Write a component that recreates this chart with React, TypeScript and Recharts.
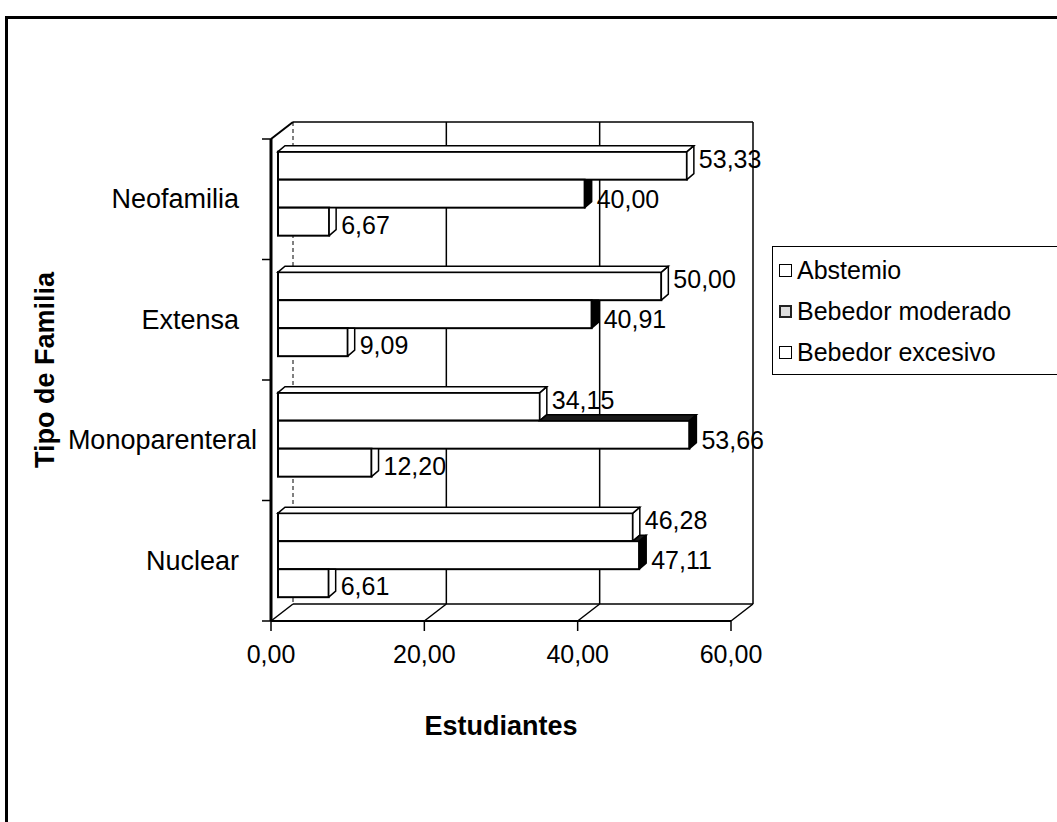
import React from "react";
import { BarChart, Bar, XAxis, YAxis, CartesianGrid, Legend, LabelList } from "recharts";

const categories = ["Neofamilia", "Extensa", "Monoparenteral", "Nuclear"];
const abstemio = [53.33, 50.0, 34.15, 46.28];
const moderado = [40.0, 40.91, 53.66, 47.11];
const excesivo = [6.67, 9.09, 12.2, 6.61];
const seriesNames = ["Abstemio", "Bebedor moderado", "Bebedor excesivo"];
const xTicks = [0, 20, 40, 60];

const rows = categories.map((name, i) => ({
  name,
  abstemio: abstemio[i],
  moderado: moderado[i],
  excesivo: excesivo[i],
}));

const FONT = "'Liberation Sans', Arial, sans-serif";
const W = 1057;
const H = 822;
const MARGIN = { top: 139, right: 326, bottom: 0, left: 0 };
const Y_AXIS_W = 271;
const X_AXIS_H = 201;
const BAND = (H - MARGIN.top - X_AXIS_H) / categories.length;

// wall depth and bar depth (3d look)
const DX = 22;
const DY = 17;
const OX = 7;
const OY = -6;
const BX = 7;
const BY = 6;

const fmt = (v: number) => v.toFixed(2).replace(".", ",");

function make3D(key: string, upperKey: string | null, side: string, top: string) {
  return (props: any) => {
    const { x, y, width, height, payload } = props;
    const v = payload[key];
    if (!v || width <= 0) return <g />;
    const k = width / v;
    const x0 = x + OX;
    const y0 = y + OY;
    const x1 = x0 + width;
    const y1 = y0 + height;
    const upperEnd = upperKey ? x0 + payload[upperKey] * k : -Infinity;
    const hidden = upperEnd >= x1 + BX;
    const sidePts = hidden
      ? `${x1},${y0} ${x1 + BX},${y0} ${x1 + BX},${y1 - BY} ${x1},${y1}`
      : `${x1},${y0} ${x1 + BX},${y0 - BY} ${x1 + BX},${y1 - BY} ${x1},${y1}`;
    const xs = Math.max(x0, upperEnd);
    return (
      <g>
        <rect x={x0} y={y0} width={width} height={height} fill="#fff" stroke="#000" strokeWidth={2} />
        <polygon points={sidePts} fill={side} stroke="#000" strokeWidth={1.5} strokeLinejoin="round" />
        {xs < x1 && (
          <polygon
            points={`${xs},${y0} ${xs + BX},${y0 - BY} ${x1 + BX},${y0 - BY} ${x1},${y0}`}
            fill={top}
            stroke="#000"
            strokeWidth={1.5}
          />
        )}
      </g>
    );
  };
}

const makeLabel = (dy: number) => (props: any) => {
  const { x, y, width, height, value } = props;
  return (
    <text
      x={x + width + OX + BX + 5}
      y={y + height / 2 + OY + dy}
      dominantBaseline="central"
      fontFamily={FONT}
      fontSize={25}
      fill="#000"
    >
      {fmt(value)}
    </text>
  );
};

const VLine = (p: any) => {
  const { x1, y1, x2, y2, index } = p;
  return (
    <g>
      <line
        x1={x1 + DX}
        y1={y1 - DY}
        x2={x2 + DX}
        y2={y2 - DY}
        stroke="#000"
        strokeWidth={index === 0 ? 1 : 1.5}
        strokeDasharray={index === 0 ? "4 3" : undefined}
      />
      <line x1={x2} y1={y2} x2={x2 + DX} y2={y2 - DY} stroke="#000" strokeWidth={1.5} />
      {index === 0 && <line x1={x1} y1={y1} x2={x1 + DX} y2={y1 - DY} stroke="#000" strokeWidth={2} />}
    </g>
  );
};

const HLine = (p: any) => {
  const { x1, y1, x2, y2 } = p;
  return <line x1={x1 + DX} y1={y1 - DY} x2={x2 + DX} y2={y2 - DY} stroke="#000" strokeWidth={1.5} />;
};

const XTick = (p: any) => {
  const { x, y, payload } = p;
  return (
    <text x={x} y={y + 32} textAnchor="middle" fontFamily={FONT} fontSize={25} fill="#000">
      {fmt(payload.value)}
    </text>
  );
};

const YTick = (p: any) => {
  const { y, payload, index } = p;
  const ax = Y_AXIS_W;
  const right = payload.value.length > 12 ? 257 : 239;
  return (
    <g>
      <line x1={ax - 9} y1={y - BAND / 2} x2={ax} y2={y - BAND / 2} stroke="#000" strokeWidth={1.5} />
      {index === categories.length - 1 && (
        <line x1={ax - 9} y1={y + BAND / 2} x2={ax} y2={y + BAND / 2} stroke="#000" strokeWidth={1.5} />
      )}
      <text x={right} y={y} textAnchor="end" dominantBaseline="central" fontFamily={FONT} fontSize={27} fill="#000">
        {payload.value}
      </text>
    </g>
  );
};

const XTitle = (p: any) => {
  const vb = p.viewBox || { x: 271, y: 621, width: 460 };
  return (
    <text x={vb.x + vb.width / 2} y={vb.y + 114} textAnchor="middle" fontFamily={FONT} fontSize={27} fontWeight="bold">
      Estudiantes
    </text>
  );
};

const YTitle = (p: any) => {
  const vb = p.viewBox || { x: 0, y: 139, width: 271, height: 482 };
  const cx = 45;
  const cy = vb.y + vb.height / 2 - 10;
  return (
    <text
      x={cx}
      y={cy}
      textAnchor="middle"
      dominantBaseline="central"
      transform={`rotate(-90, ${cx}, ${cy})`}
      fontFamily={FONT}
      fontSize={27}
      fontWeight="bold"
    >
      Tipo de Familia
    </text>
  );
};

const LegendBox = () => (
  <div
    style={{
      border: "1.5px solid #000",
      boxSizing: "border-box",
      height: 129,
      width: 320,
      paddingTop: 3,
      background: "#fff",
      fontFamily: FONT,
      fontSize: 25,
    }}
  >
    {seriesNames.map((s, i) => (
      <div key={s} style={{ height: 41, display: "flex", alignItems: "center", paddingLeft: 6 }}>
        <span
          style={{
            display: "inline-block",
            width: 13,
            height: 13,
            border: i === 1 ? "2.5px solid #222" : "1.5px solid #000",
            background: i === 1 ? "#ddd" : "#fff",
            boxSizing: "border-box",
            marginRight: 5,
          }}
        />
        <span>{s}</span>
      </div>
    ))}
  </div>
);

export default function App() {
  return (
    <div style={{ position: "absolute", left: 0, top: 0, width: W, height: H, overflow: "hidden", background: "#fff" }}>
      <div style={{ position: "absolute", left: 0, top: 0 }}>
        <BarChart
          layout="vertical"
          width={W}
          height={H}
          data={rows}
          margin={MARGIN}
          barCategoryGap="15.5%"
          barGap={0}
        >
          <CartesianGrid
            vertical={VLine}
            horizontal={HLine}
            horizontalCoordinatesGenerator={({ offset }: any) => [offset.top, offset.top + offset.height]}
            fill="none"
          />
          <XAxis
            type="number"
            domain={[0, 60]}
            ticks={xTicks}
            height={X_AXIS_H}
            tickSize={10}
            tickMargin={0}
            tick={XTick}
            axisLine={{ stroke: "#000", strokeWidth: 2 }}
            tickLine={{ stroke: "#000", strokeWidth: 1.5 }}
            label={{ content: XTitle }}
          />
          <YAxis
            type="category"
            dataKey="name"
            width={Y_AXIS_W}
            tickLine={false}
            tick={YTick}
            axisLine={{ stroke: "#000", strokeWidth: 3 }}
            label={{ content: YTitle }}
          />
          <Legend
            layout="vertical"
            align="center"
            verticalAlign="middle"
            content={LegendBox}
            wrapperStyle={{ position: "absolute", left: 772, top: 246, width: 320, height: 129 }}
          />
          <Bar dataKey="abstemio" name={seriesNames[0]} fill="#fff" isAnimationActive={false} shape={make3D("abstemio", null, "#fff", "#fff")}>
            <LabelList dataKey="abstemio" content={makeLabel(-7)} />
          </Bar>
          <Bar dataKey="moderado" name={seriesNames[1]} fill="#fff" isAnimationActive={false} shape={make3D("moderado", "abstemio", "#000", "#1a1a1a")}>
            <LabelList dataKey="moderado" content={makeLabel(5)} />
          </Bar>
          <Bar dataKey="excesivo" name={seriesNames[2]} fill="#fff" isAnimationActive={false} shape={make3D("excesivo", "moderado", "#fff", "#fff")}>
            <LabelList dataKey="excesivo" content={makeLabel(3)} />
          </Bar>
        </BarChart>
      </div>
      <div
        style={{
          position: "absolute",
          left: 5,
          top: 16,
          width: 1200,
          height: 900,
          borderLeft: "3px solid #000",
          borderTop: "3px solid #000",
          pointerEvents: "none",
        }}
      />
    </div>
  );
}
